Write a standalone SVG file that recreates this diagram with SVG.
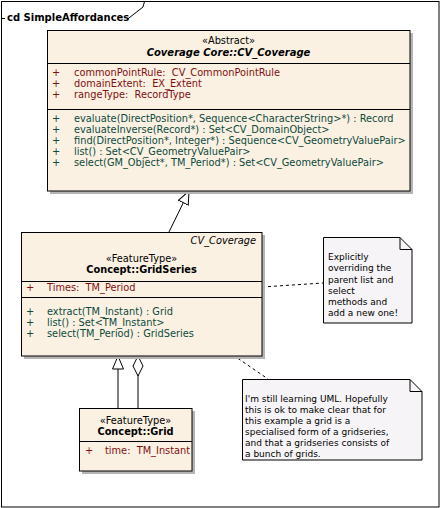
<svg xmlns="http://www.w3.org/2000/svg" width="441" height="508" viewBox="0 0 441 508">
<style>
text{font-family:"DejaVu Sans","Verdana",sans-serif;font-size:9.8px;fill:#000;white-space:pre}
.n{font-size:9px}
.c{text-anchor:middle}
.b{font-weight:bold}
.bi{font-weight:bold;font-style:italic}
.i{font-style:italic}
.attr{fill:#7f1010}
.op{fill:#0c4a3c}
.box{fill:#fbf1e3;stroke:#000;stroke-width:1}
.shadow{fill:#b5b5b5}
.div{stroke:#000;stroke-width:1}
.note{fill:#f6f4f6;stroke:#000;stroke-width:1}
.ln{stroke:#000;stroke-width:1;fill:none}
.dash{stroke:#000;stroke-width:1;fill:none;stroke-dasharray:3,3}
</style>
<defs>
<marker id="gen" markerUnits="userSpaceOnUse" markerWidth="14" markerHeight="12" viewBox="0 0 14 12" refX="13.5" refY="6" orient="auto">
<path d="M0.5,0.5 L13.5,6 L0.5,11.5 Z" fill="#fff" stroke="#000" stroke-width="1"/>
</marker>
<marker id="agg" markerUnits="userSpaceOnUse" markerWidth="22" markerHeight="12" viewBox="0 0 22 12" refX="0.5" refY="6" orient="auto">
<path d="M0.5,6 L10.5,1 L20.5,6 L10.5,11 Z" fill="#fff" stroke="#000" stroke-width="1"/>
</marker>
</defs>
<rect x="0" y="0" width="441" height="508" fill="#fff"/>
<g id="frame">
<rect x="1.5" y="1.5" width="437.5" height="505.5" fill="none" stroke="#000"/>
<path class="ln" d="M1.5,18.5 H5 M127,19.5 L143,7 L144.5,1.5"/>
<text class="b" x="7" y="21" style="font-size:10px">cd SimpleAffordances</text>
</g>
<g id="connectors">
<path class="ln" d="M169,232 L189,191" marker-end="url(#gen)"/>
<path class="ln" d="M118,408 L118,356" marker-end="url(#gen)"/>
<path class="ln" d="M138,356 L138,408" marker-start="url(#agg)"/>
<path class="dash" d="M262,287 L323,283"/>
<path class="dash" d="M233,355 L268,379"/>
</g>
<g id="CV_Coverage">
<rect class="shadow" x="50" y="33" width="363" height="161"/>
<rect class="box" x="47.5" y="30.5" width="362.5" height="160.5"/>
<line class="div" x1="47.5" y1="63.5" x2="410" y2="63.5"/>
<line class="div" x1="47.5" y1="109.5" x2="410" y2="109.5"/>
<text class="c" x="228.5" y="44">«Abstract»</text>
<text class="c bi" x="228.5" y="56" style="font-size:10px">Coverage Core::CV_Coverage</text>
<text class="attr" x="52" y="76">+</text><text class="attr" x="74" y="76">commonPointRule:  CV_CommonPointRule</text>
<text class="attr" x="52" y="87">+</text><text class="attr" x="74" y="87">domainExtent:  EX_Extent</text>
<text class="attr" x="52" y="98">+</text><text class="attr" x="74" y="98">rangeType:  RecordType</text>
<text class="op" x="52" y="122">+</text><text class="op" x="74" y="122">evaluate(DirectPosition*, Sequence&lt;CharacterString&gt;*) : Record</text>
<text class="op" x="52" y="133">+</text><text class="op" x="74" y="133">evaluateInverse(Record*) : Set&lt;CV_DomainObject&gt;</text>
<text class="op" x="52" y="144">+</text><text class="op" x="74" y="144">find(DirectPosition*, Integer*) : Sequence&lt;CV_GeometryValuePair&gt;</text>
<text class="op" x="52" y="155">+</text><text class="op" x="74" y="155">list() : Set&lt;CV_GeometryValuePair&gt;</text>
<text class="op" x="52" y="166">+</text><text class="op" x="74" y="166">select(GM_Object*, TM_Period*) : Set&lt;CV_GeometryValuePair&gt;</text>
</g>
<g id="GridSeries">
<rect class="shadow" x="24" y="235" width="241" height="124"/>
<rect class="box" x="21.5" y="232.5" width="240.5" height="123.5"/>
<line class="div" x1="21.5" y1="281.5" x2="262" y2="281.5"/>
<line class="div" x1="21.5" y1="297.5" x2="262" y2="297.5"/>
<text class="i" x="256" y="244" text-anchor="end">CV_Coverage</text>
<text class="c" x="141.5" y="262">«FeatureType»</text>
<text class="c b" x="141.5" y="273">Concept::GridSeries</text>
<text class="attr" x="26" y="291">+</text><text class="attr" x="47" y="291">Times:  TM_Period</text>
<text class="op" x="26" y="315">+</text><text class="op" x="47" y="315">extract(TM_Instant) : Grid</text>
<text class="op" x="26" y="326">+</text><text class="op" x="47" y="326">list() : Set&lt;TM_Instant&gt;</text>
<text class="op" x="26" y="337">+</text><text class="op" x="47" y="337">select(TM_Period) : GridSeries</text>
</g>
<g id="Grid">
<rect class="shadow" x="82" y="411" width="113" height="63"/>
<rect class="box" x="79.5" y="408.5" width="112.5" height="62.5"/>
<line class="div" x1="79.5" y1="441.5" x2="192" y2="441.5"/>
<text class="c" x="135.5" y="424">«FeatureType»</text>
<text class="c b" x="135.5" y="435">Concept::Grid</text>
<text class="attr" x="85" y="454">+</text><text class="attr" x="105" y="454">time:  TM_Instant</text>
</g>
<g id="note1">
<path class="note" d="M323.5,237.5 H400 L412,249.5 V323 H323.5 Z"/>
<path class="ln" d="M400,237.5 V249.5 H412"/>
<text class="n" x="328" y="260">Explicitly</text>
<text class="n" x="328" y="271">overriding the</text>
<text class="n" x="328" y="282.5">parent list and</text>
<text class="n" x="328" y="293.5">select</text>
<text class="n" x="328" y="305">methods and</text>
<text class="n" x="328" y="316">add a new one!</text>
</g>
<g id="note2">
<path class="note" d="M242.5,379.5 H410 L422,391.5 V460 H242.5 Z"/>
<path class="ln" d="M410,379.5 V391.5 H422"/>
<text class="n" x="245" y="402">I'm still learning UML. Hopefully</text>
<text class="n" x="245" y="413">this is ok to make clear that for</text>
<text class="n" x="245" y="424">this example a grid is a</text>
<text class="n" x="245" y="435">specialised form of a gridseries,</text>
<text class="n" x="245" y="446">and that a gridseries consists of</text>
<text class="n" x="245" y="457">a bunch of grids.</text>
</g>
</svg>
